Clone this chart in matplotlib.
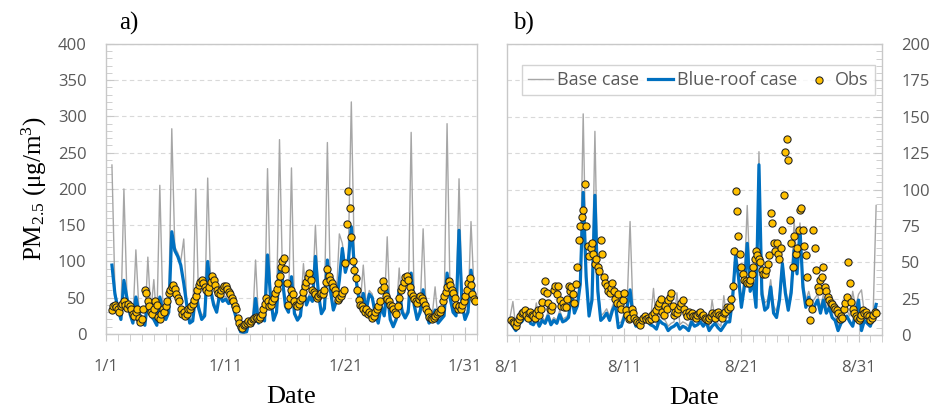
import numpy as np
import matplotlib
matplotlib.use('Agg')
import matplotlib.pyplot as plt
from matplotlib.ticker import MultipleLocator, FixedLocator

plt.rcParams['font.family'] = 'Open Sans'
plt.rcParams['mathtext.default'] = 'regular'

# ---- panel a: January, model every 6 h from 1/1 12:00, obs every 3 h ----
jan_base = [233, 60,
            40, 25, 200, 55,   32, 18, 116, 35,   22, 15, 106, 30,   75, 15, 205, 38,
            25, 40, 283, 120,  112, 100, 131, 45, 18, 22, 200, 40,   25, 30, 215, 68,
            45, 35, 65, 50,    52, 46, 50, 34,    18, 5, 4, 5,       22, 15, 102, 18,
            28, 22, 228, 56,   22, 35, 268, 80,   42, 35, 229, 32,   22, 30, 97, 45,
            55, 50, 150, 60,   32, 40, 264, 66,   36, 50, 138, 125,  90, 110, 320, 105,
            70, 42, 95, 38,    60, 55, 32, 18,    42, 30, 134, 24,   14, 24, 91, 35,
            26, 35, 278, 45,   25, 35, 145, 32,   18, 24, 65, 18,    24, 30, 290, 56,
            35, 30, 214, 45,   24, 35, 155, 60,   48]
jan_blue = [95, 55,
            35, 20, 74, 50,    28, 15, 51, 30,    18, 12, 47, 25,    20, 12, 51, 33,
            20, 30, 141, 115,  107, 95, 70, 40,   15, 18, 56, 35,    20, 25, 100, 60,
            40, 30, 55, 45,    48, 42, 45, 30,    15, 3, 2, 3,       20, 12, 49, 15,
            24, 18, 109, 51,   19, 30, 93, 74,    38, 30, 79, 28,    19, 25, 65, 40,
            51, 45, 107, 56,   28, 35, 102, 60,   33, 45, 74, 118,   85, 100, 148, 95,
            62, 38, 56, 33,    55, 50, 28, 15,    38, 25, 61, 20,    10, 20, 61, 30,
            22, 30, 84, 40,    20, 30, 61, 28,    15, 20, 33, 15,    20, 25, 84, 50,
            30, 25, 143, 40,   20, 30, 88, 55,    42]
jan_obs = [33, 38, 40, 37,
           35, 30, 38, 42, 45, 40, 36, 42,   38, 34, 28, 25, 30, 35, 22, 17,
           20, 35, 61, 57, 45, 38, 31, 28,   35, 45, 40, 24, 20, 28, 35, 30,
           38, 45, 57, 60, 65, 67, 62, 55,   50, 45, 35, 27, 30, 25, 28, 34,
           34, 38, 42, 47, 52, 60, 68, 72,   75, 70, 65, 61, 58, 65, 72, 80,
           75, 68, 60, 57, 55, 60, 64, 66,   66, 62, 58, 55, 50, 45, 38, 34,
           22, 15, 10, 8, 12, 14, 15, 18,    15, 18, 20, 22, 24, 22, 20, 24,
           28, 35, 42, 50, 45, 38, 40, 45,   50, 57, 62, 70, 80, 93, 100, 105,
           90, 70, 40, 50, 61, 55, 45, 40,   38, 42, 47, 50, 58, 66, 72, 78,
           84, 75, 61, 58, 55, 50, 52, 55,   57, 55, 60, 72, 89, 80, 75, 70,
           65, 61, 55, 47, 50, 52, 57, 60,   98, 152, 197, 174, 134, 100, 88, 77,
           61, 47, 40, 38, 35, 30, 34, 28,   31, 28, 22, 25, 30, 34, 38, 45,
           60, 73, 65, 52, 48, 45, 40, 38,   35, 31, 28, 38, 50, 61, 65, 72,
           78, 80, 75, 65, 57, 52, 48, 45,   43, 48, 52, 50, 45, 40, 35, 30,
           24, 22, 20, 22, 25, 28, 31, 30,   35, 45, 52, 58, 65, 73, 68, 60,
           57, 50, 40, 34, 38, 35, 40, 45,   52, 60, 70, 77, 68, 55, 48, 45]

# ---- panel b: August, model every 6 h from 8/1 06:00, obs every 3 h from 8/1 09:00 ----
aug_base = [12, 23, 5,
            10, 11, 14, 16,   10, 9, 22, 8,     12, 10, 16, 9,    12, 10, 17, 11,
            12, 14, 33, 15,   24, 40, 152, 45,  16, 28, 140, 35,  13, 15, 18, 13,
            20, 25, 8, 9,     15, 22, 78, 16,   9, 12, 10, 13,    12, 10, 32, 7,
            13, 11, 10, 6,    8, 9, 29, 7,      9, 8, 6, 12,      9, 10, 12, 9,
            12, 6, 24, 11,    8, 6, 27, 12,     12, 30, 60, 45,   24, 38, 89, 35,
            40, 24, 126, 33,  22, 24, 38, 20,   16, 28, 53, 33,   21, 34, 79, 46,
            77, 38, 24, 30,   22, 25, 28, 19,   28, 19, 24, 16,   14, 7, 12, 14,
            17, 13, 30, 19,   28, 31, 14, 12,   10, 16, 89]
aug_blue = [11, 6, 3,
            8, 9, 12, 14,     8, 7, 11, 6,      10, 8, 13, 7,     10, 8, 14, 9,
            10, 12, 28, 15,   20, 35, 98, 40,   13, 24, 96, 30,   10, 12, 15, 10,
            17, 21, 5, 6,     12, 19, 31, 13,   6, 9, 7, 10,      9, 7, 6, 4,
            10, 8, 7, 3,      5, 6, 8, 4,       6, 5, 3, 9,       6, 7, 9, 6,
            9, 3, 6, 8,       5, 3, 6, 9,       9, 25, 54, 40,    19, 33, 63, 30,
            36, 19, 117, 28,  17, 19, 33, 15,   12, 24, 49, 29,   17, 29, 58, 42,
            73, 33, 19, 26,   18, 20, 24, 15,   24, 15, 19, 12,   10, 3, 8, 10,
            13, 9, 6, 15,     24, 3, 10, 8,     6, 12, 21]
aug_obs = [10, 9, 8, 6, 9,
           11, 13, 15, 16, 17, 14, 12, 15,   16, 14, 13, 12, 15, 17, 14, 18,
           23, 30, 37, 29, 22, 18, 17, 20,   31, 34, 28, 34, 24, 20, 22, 19,
           19, 25, 34, 30, 33, 28, 22, 35,   47, 65, 75, 81, 86, 104, 75, 61,
           54, 60, 63, 56, 49, 52, 47, 44,   65, 56, 40, 36, 34, 30, 29, 32,
           36, 30, 25, 22, 28, 21, 18, 24,   29, 17, 14, 11, 12, 18, 15, 12,
           10, 9, 8, 7, 10, 12, 13, 11,      12, 10, 11, 14, 15, 12, 17, 20,
           22, 25, 16, 14, 20, 18, 24, 26,   29, 20, 14, 16, 15, 18, 20, 22,
           24, 18, 15, 13, 16, 14, 15, 13,   13, 12, 14, 15, 16, 13, 14, 12,
           11, 10, 12, 13, 15, 14, 12, 15,   16, 14, 13, 12, 15, 16, 19, 18,
           19, 25, 34, 58, 99, 85, 68, 56,   47, 42, 38, 37, 36, 36, 38, 42,
           47, 52, 58, 55, 52, 50, 45, 42,   42, 45, 49, 55, 84, 77, 63, 58,
           63, 56, 52, 60, 72, 96, 126, 135, 120, 79, 63, 47, 68, 56, 60, 72,
           86, 87, 72, 61, 55, 40, 23, 10,   18, 72, 60, 45, 33, 30, 38, 40,
           47, 33, 30, 26, 24, 22, 21, 19,   18, 17, 15, 11, 13, 12, 18, 22,
           26, 50, 36, 23, 18, 15, 13, 12,   10, 12, 14, 17, 15, 16, 14, 13,
           10, 12, 14, 16, 15]

jan_ticks = ['1/1', '1/11', '1/21', '1/31']
aug_ticks = ['8/1', '8/11', '8/21', '8/31']

# time axis in days since the 1st of the month
jan_t = 0.5 + 0.25 * np.arange(len(jan_base))
jan_to = 0.5 + 0.125 * np.arange(len(jan_obs))
aug_t = 0.25 + 0.25 * np.arange(len(aug_base))
aug_to = 0.375 + 0.125 * np.arange(len(aug_obs))

GREY = '#A6A6A6'
BLUE = '#0070C0'
GOLD = '#FFC000'
SPINE = '#C8C8C8'
TXT = '#595959'

fig = plt.figure(figsize=(9.36, 4.08), dpi=100)
ax1 = fig.add_axes([0.1132, 0.1814, 0.3964, 0.711])
ax2 = fig.add_axes([0.5417, 0.1790, 0.4006, 0.713])


def draw(ax, t, base, blue, to, obs, ymax, ystep, yminor, xmax, ticklabels):
    ax.plot(t, base, color=GREY, lw=1.0, label='Base case', zorder=2)
    ax.plot(t, blue, color=BLUE, lw=2.3, label='Blue-roof case', zorder=2.5)
    ax.scatter(to, obs, s=27, c=GOLD, edgecolors='#222222', linewidths=0.75,
               label='Obs', zorder=3)
    ax.set_xlim(0, xmax)
    ax.set_ylim(0, ymax)
    ax.yaxis.set_major_locator(MultipleLocator(ystep))
    ax.yaxis.set_minor_locator(MultipleLocator(yminor))
    ax.xaxis.set_major_locator(FixedLocator([0, 10, 20, 30]))
    ax.xaxis.set_minor_locator(MultipleLocator(1))
    ax.set_xticklabels(ticklabels)
    ax.grid(axis='y', which='major', color='#D9D9D9', lw=0.8, ls=(0, (4, 3)))
    ax.set_axisbelow(True)
    for s in ax.spines.values():
        s.set_color(SPINE)
        s.set_linewidth(1.0)
    ax.tick_params(axis='x', which='major', direction='inout', length=10,
                   color=SPINE, labelsize=12, labelcolor=TXT, pad=13)
    ax.tick_params(axis='x', which='minor', direction='out', length=5, color=SPINE)
    ax.tick_params(axis='y', which='both', direction='in', color=SPINE,
                   labelsize=12, labelcolor=TXT, pad=14)
    ax.tick_params(axis='y', which='major', length=6)
    ax.tick_params(axis='y', which='minor', length=4)
    ax.set_xlabel('Date', family='Liberation Serif', fontsize=19, labelpad=8)


draw(ax1, jan_t, jan_base, jan_blue, jan_to, jan_obs, 400, 50, 10, 31, jan_ticks)
draw(ax2, aug_t, aug_base, aug_blue, aug_to, aug_obs, 200, 25, 5, 32, aug_ticks)

ax1.set_ylabel('PM$_{2.5}$ (μg/m$^3$)', family='Liberation Serif', fontsize=18, labelpad=6)
ax2.yaxis.tick_right()
ax2.tick_params(axis='y', which='both', left=False, right=True)

ax1.text(0.035, 1.07, 'a)', transform=ax1.transAxes, family='Liberation Serif',
         fontsize=18, va='center')
ax2.text(0.015, 1.07, 'b)', transform=ax2.transAxes, family='Liberation Serif',
         fontsize=18, va='center')

leg = ax2.legend(loc='upper center', bbox_to_anchor=(0.51, 0.96), ncol=3,
                 fontsize=13, frameon=True, fancybox=False, edgecolor=SPINE,
                 handlelength=1.4, handletextpad=0.2, columnspacing=0.5,
                 scatterpoints=1, borderpad=0.35)
for txt in leg.get_texts():
    txt.set_color(TXT)

fig.savefig('out.png', dpi=100)
